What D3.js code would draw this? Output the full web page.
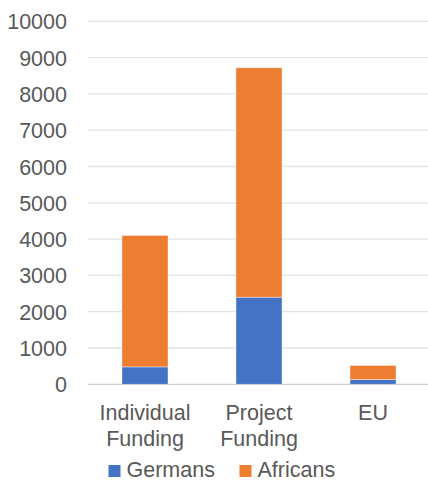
<!DOCTYPE html>
<html><head><meta charset="utf-8">
<script src="https://cdn.jsdelivr.net/npm/d3@7"></script>
<style>body{margin:0;background:#fff}svg{display:block}text{font-family:"Liberation Sans",Arial,sans-serif;fill:#595959}</style>
</head><body>
<svg id="c" width="428" height="482"></svg>
<script>
const categories = [["Individual","Funding"],["Project","Funding"],["EU"]];
const categoryKeys = ["Individual Funding","Project Funding","EU"];
const germans = [480, 2400, 130];
const africans = [3620, 6320, 390];
const seriesNames = ["Germans","Africans"];
const colors = ["#4472C4","#ED7D31"];
const yTicks = [0,1000,2000,3000,4000,5000,6000,7000,8000,9000,10000];

const svg = d3.select("#c");
const x = d3.scaleBand().domain(categoryKeys).range([88,430]).paddingInner(0.596).paddingOuter(0.298);
const y = d3.scaleLinear().domain([0,10000]).range([384.3,21.3]);

const grid = svg.append("g");
grid.selectAll("line").data(yTicks).join("line")
  .attr("x1",88).attr("x2",430)
  .attr("y1",d=>y(d)).attr("y2",d=>y(d))
  .attr("stroke",d=>d===0?"#d0d0d0":"#e3e3e3").attr("stroke-width",1.3);

const yAxis = d3.axisLeft(y).tickValues(yTicks).tickSize(0).tickPadding(0).tickFormat(d3.format("d"));
const ya = svg.append("g").attr("transform","translate(67,0)").call(yAxis);
ya.select(".domain").remove();
ya.selectAll("text").style("font-size","21.5px").attr("fill","#595959").attr("dy","0.35em");

const data = categoryKeys.map((k,i)=>({key:k, Germans:germans[i], Africans:africans[i]}));
const stack = d3.stack().keys(seriesNames)(data);
svg.append("g").selectAll("g").data(stack).join("g").attr("fill",(d,i)=>colors[i])
  .selectAll("rect").data(d=>d).join("rect")
  .attr("x",d=>x(d.data.key)).attr("width",x.bandwidth())
  .attr("y",d=>y(d[1])).attr("height",d=>y(d[0])-y(d[1]))
  .attr("stroke","#fff").attr("stroke-opacity",0.5).attr("stroke-width",0.8);

const xl = svg.append("g");
categoryKeys.forEach((k,i)=>{
  const t = xl.append("text").attr("x",x(k)+x.bandwidth()/2).attr("y",420)
    .attr("text-anchor","middle").style("font-size","21.5px");
  categories[i].forEach((line,j)=>{
    t.append("tspan").attr("x",x(k)+x.bandwidth()/2).attr("dy",j===0?0:25.5).text(line);
  });
});

const legX = [108.5,239.5];
const lg = svg.append("g");
seriesNames.forEach((s,i)=>{
  lg.append("rect").attr("x",legX[i]).attr("y",465).attr("width",12).attr("height",12).attr("fill",colors[i]);
  lg.append("text").attr("x",legX[i]+18).attr("y",477).style("font-size","21.5px").text(s);
});
</script>
</body></html>
